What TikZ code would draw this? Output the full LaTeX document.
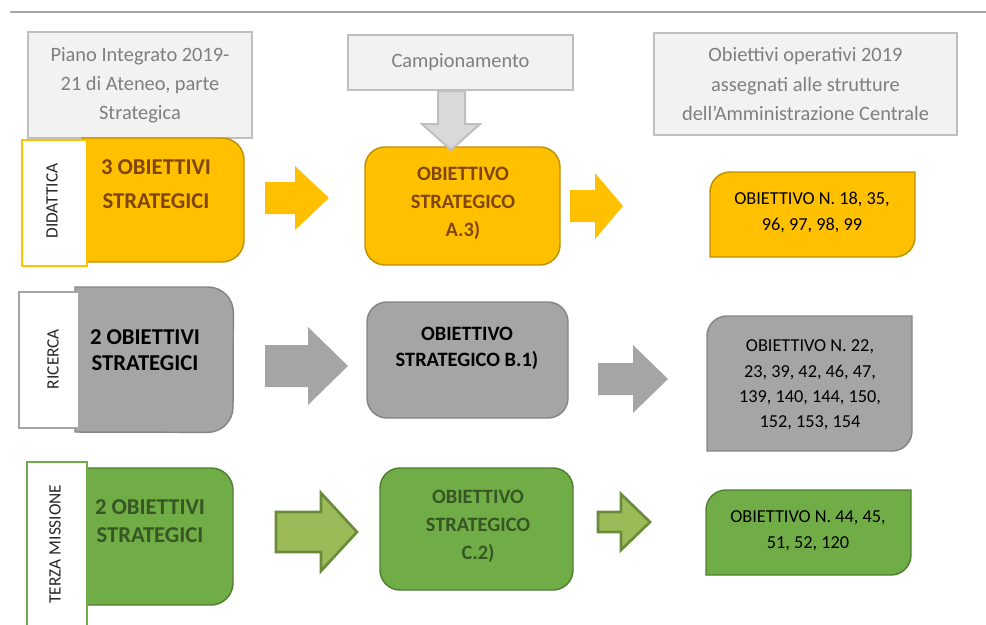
\documentclass[tikz,border=0pt]{standalone}
\usepackage{fontspec}
\setmainfont{Carlito}
\definecolor{orF}{HTML}{FFC000}
\definecolor{orD}{HTML}{BF9000}
\definecolor{orT}{HTML}{80450A}
\definecolor{grF}{HTML}{A5A5A5}
\definecolor{grD}{HTML}{858585}
\definecolor{gnF}{HTML}{70AD47}
\definecolor{gnD}{HTML}{507E32}
\definecolor{gnT}{HTML}{375623}
\definecolor{gaF}{HTML}{9BBB59}
\definecolor{gaD}{HTML}{6A8C3A}
\definecolor{topF}{HTML}{F2F2F2}
\definecolor{topD}{HTML}{BFBFBF}
\definecolor{topT}{HTML}{7F7F7F}
\definecolor{campF}{HTML}{D9D9D9}
\definecolor{lineC}{HTML}{A6A6A6}
\begin{document}
\begin{tikzpicture}[x=0.75pt,y=-0.75pt,
  topbox/.style={draw=topD,fill=topF,line width=1.6pt,text=topT,align=center,
    inner sep=0pt,font=\fontsize{15.3}{21.8}\selectfont},
  leftbox/.style={line width=1.1pt},
  lbl/.style={fill=white,line width=1.5pt,inner sep=0pt},
  lbltxt/.style={rotate=90,font=\fontsize{13}{15}\selectfont,text=black!85},
  bigtxt/.style={align=center,font=\bfseries\fontsize{17}{25}\selectfont},
  midbox/.style={rounded corners=15pt,line width=1.1pt,inner sep=0pt},
  midtxt/.style={align=center,font=\bfseries\fontsize{15.3}{21}\selectfont},
  rtxt/.style={align=center,font=\fontsize{13.7}{19.5}\selectfont,text=black},
  rbox/.style={line width=1.1pt},
  arrO/.style={fill=orF,draw=none},
  arrG/.style={fill=grF,draw=none},
  arrN/.style={fill=gaF,draw=gaD,line width=2pt,line join=miter},
]
\useasboundingbox (0,0) rectangle (986,625);
\draw[lineC,line width=1.2pt] (10,12) -- (986,12);

% top header boxes
\node[topbox,minimum width=168pt,minimum height=79.5pt] (piano) at (140,85)
  {Piano Integrato 2019-\\21 di Ateneo, parte\\Strategica};
\node[topbox,minimum width=168.75pt,minimum height=41.25pt] (camp) at (460.5,62.5)
  {Campionamento};
\node[topbox,minimum width=227.25pt,minimum height=76.5pt] (oper) at (805.5,84)
  {Obiettivi operativi 2019\\assegnati alle strutture\\dell’Amministrazione Centrale};

% ---------- Row 1: Didattica ----------
\path[leftbox,fill=orF,draw=orD] (82,138) -- (222,138) arc[start angle=90,end angle=0,radius=16.5pt]
  -- (244,240) arc[start angle=0,end angle=-90,radius=16.5pt] -- (82,262) -- cycle;
\node[lbl,draw=orF,minimum width=48.75pt,minimum height=94.5pt] (lab1) at (54.5,203) {};
\node[lbltxt] (lab1t) at (52,201) {DIDATTICA};
\node[bigtxt,text=orT] (l1t) at (156,184) {3 OBIETTIVI\\STRATEGICI};

\node[midbox,fill=orF,draw=orD,minimum width=146.25pt,minimum height=88.5pt] (m1) at (462.5,206) {};
\node[midtxt,text=orT] (m1t) at (463,203) {OBIETTIVO\\STRATEGICO\\A.3)};

\path[rbox,fill=orF,draw=orD] (710,192) arc[start angle=180,end angle=90,radius=15pt]
  -- (915,172) -- (915,237) arc[start angle=0,end angle=-90,radius=15pt] -- (710,257) -- cycle;
\node[rtxt] (r1t) at (812,212.5) {OBIETTIVO N. 18, 35,\\96, 97, 98, 99};

\filldraw[arrO] (265,182) -- (295,182) -- (295,166) -- (329,198) -- (295,230) -- (295,214) -- (265,214) -- cycle;
\filldraw[arrO] (570,190) -- (595,190) -- (595,173) -- (623,206) -- (595,239) -- (595,222) -- (570,222) -- cycle;

% Campionamento arrow
\filldraw[fill=campF,draw=topD,line width=1.5pt] (438,91) -- (465,91) -- (465,124) -- (480,124)
  -- (451,150) -- (422,124) -- (438,124) -- cycle;

% ---------- Row 2: Ricerca ----------
\path[leftbox,fill=grF,draw=grD] (75,287) -- (208,287) arc[start angle=90,end angle=0,radius=19pt]
  -- (233,407) arc[start angle=0,end angle=-90,radius=19pt] -- (75,432) -- cycle;
\node[lbl,draw=grF,minimum width=45pt,minimum height=102pt] (lab2) at (49,360) {};
\node[lbltxt] (lab2t) at (53,359) {RICERCA};
\node[bigtxt,text=black,font=\bfseries\fontsize{17}{20}\selectfont] (l2t) at (145,350) {2 OBIETTIVI\\STRATEGICI};

\node[midbox,fill=grF,draw=grD,minimum width=150.75pt,minimum height=87pt] (m2) at (467.5,360) {};
\node[midtxt,text=black,font=\bfseries\fontsize{15.3}{20}\selectfont] (m2t) at (467,348.5) {OBIETTIVO\\STRATEGICO B.1)};

\path[rbox,fill=grF,draw=grD] (707,336) arc[start angle=180,end angle=90,radius=15pt]
  -- (912,316) -- (912,431) arc[start angle=0,end angle=-90,radius=15pt] -- (707,451) -- cycle;
\node[rtxt,font=\fontsize{13.7}{19}\selectfont] (r2t) at (810,385) {OBIETTIVO N. 22,\\23, 39, 42, 46, 47,\\139, 140, 144, 150,\\152, 153, 154};

\filldraw[arrG] (265,345) -- (308,345) -- (308,327) -- (348,366) -- (308,405) -- (308,387) -- (265,387) -- cycle;
\filldraw[arrG] (598,363) -- (633,363) -- (633,345) -- (668,379) -- (633,413) -- (633,395) -- (598,395) -- cycle;

% ---------- Row 3: Terza missione ----------
\path[leftbox,fill=gnF,draw=gnD] (80,468) -- (211,468) arc[start angle=90,end angle=0,radius=16.5pt]
  -- (233,583) arc[start angle=0,end angle=-90,radius=16.5pt] -- (80,605) -- cycle;
\node[lbl,draw=gnF,minimum width=45pt,minimum height=133.5pt] (lab3) at (57,551) {};
\node[lbltxt] (lab3t) at (55,544) {TERZA MISSIONE};
\node[bigtxt,text=gnT,font=\bfseries\fontsize{17}{21}\selectfont] (l3t) at (150,521) {2 OBIETTIVI\\STRATEGICI};

\node[midbox,fill=gnF,draw=gnD,minimum width=144.75pt,minimum height=91.5pt] (m3) at (476.5,529) {};
\node[midtxt,text=gnT] (m3t) at (478,526.5) {OBIETTIVO\\STRATEGICO\\C.2)};

\path[rbox,fill=gnF,draw=gnD] (706,510) arc[start angle=180,end angle=90,radius=15pt]
  -- (911,490) -- (911,555) arc[start angle=0,end angle=-90,radius=15pt] -- (706,575) -- cycle;
\node[rtxt] (r3t) at (808,530.5) {OBIETTIVO N. 44, 45,\\51, 52, 120};

\filldraw[arrN] (276,512) -- (321,512) -- (321,493) -- (357,532) -- (321,571) -- (321,552) -- (276,552) -- cycle;
\filldraw[arrN] (598,512) -- (621,512) -- (621,494) -- (650,522) -- (621,550) -- (621,532) -- (598,532) -- cycle;
\end{tikzpicture}
\end{document}
